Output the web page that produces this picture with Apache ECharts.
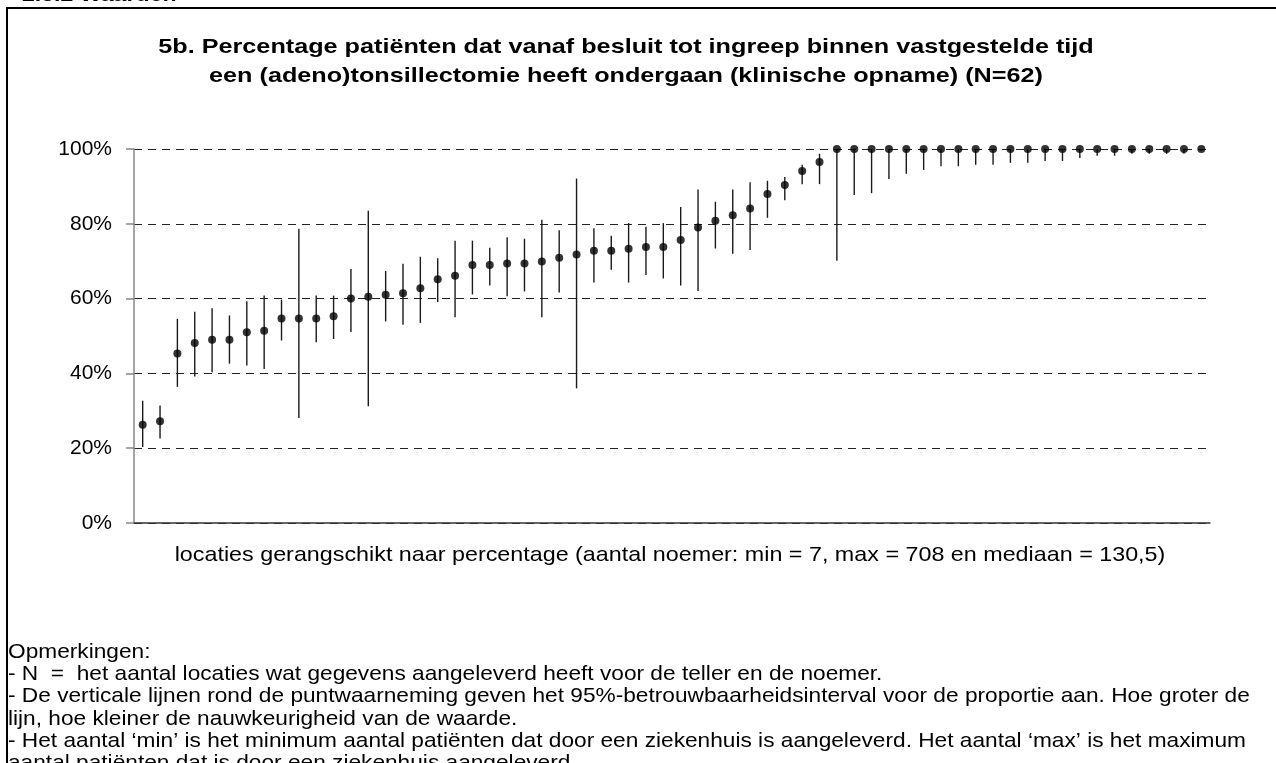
<!doctype html>
<html>
<head>
    <meta charset="utf-8">
    <title>5b. Percentage patiënten</title>
    <style type="text/css">
        body, html {
            width: 100%;
            height: 100%;
            margin: 0;
            padding: 0;
            background: #fff;
        }
    </style>
</head>
<body>
<div id="container" style="width: 1276px; height: 763px"></div>

<script type="text/javascript" src="https://cdn.jsdelivr.net/npm/echarts@6/dist/echarts.min.js"></script>
<script type="text/javascript">
    // 62 locaties, gerangschikt naar percentage
    const locaties = Array.from({length: 62}, (_, i) => String(i + 1));

    // puntwaarneming (%)
    const percentage = [
        26.3, 27.2, 45.3, 48.1, 49.0, 49.0, 51.0, 51.4, 54.7, 54.7,
        54.7, 55.3, 60.0, 60.5, 61.0, 61.4, 62.8, 65.2, 66.1, 69.0,
        69.0, 69.4, 69.4, 69.9, 70.9, 71.8, 72.8, 72.8, 73.3, 73.8,
        73.8, 75.7, 79.0, 80.8, 82.3, 84.1, 88.0, 90.4, 94.1, 96.5,
        100, 100, 100, 100, 100, 100, 100, 100, 100, 100,
        100, 100, 100, 100, 100, 100, 100, 100, 100, 100,
        100, 100
    ];

    // 95%-betrouwbaarheidsinterval, ondergrens
    const ondergrens = [
        20.3, 22.6, 36.4, 39.2, 40.3, 42.6, 42.1, 41.2, 48.8, 28.1,
        48.3, 49.2, 51.1, 31.2, 53.9, 53.0, 53.5, 59.1, 55.0, 61.1,
        63.5, 60.6, 61.9, 55.0, 61.6, 36.0, 64.3, 67.7, 64.3, 66.3,
        65.4, 63.5, 62.0, 73.4, 72.0, 73.0, 81.6, 86.3, 90.6, 90.6,
        70.1, 87.7, 88.2, 92.0, 93.4, 94.4, 95.4, 95.4, 95.8, 95.8,
        96.3, 96.3, 96.8, 96.8, 97.6, 98.2, 98.2, 98.7, 98.7, 98.7,
        98.7, 99.5
    ];

    // 95%-betrouwbaarheidsinterval, bovengrens
    const bovengrens = [
        32.7, 31.4, 54.6, 56.5, 57.4, 55.5, 59.3, 60.8, 59.7, 78.7,
        60.8, 60.8, 67.9, 83.5, 67.4, 69.3, 71.2, 70.8, 75.5, 75.5,
        73.6, 76.4, 76.0, 81.1, 78.3, 92.1, 78.8, 76.8, 80.2, 79.2,
        80.2, 84.5, 89.2, 85.9, 89.2, 91.1, 91.5, 92.5, 95.8, 98.7,
        100, 100, 100, 100, 100, 100, 100, 100, 100, 100,
        100, 100, 100, 100, 100, 100, 100, 100, 100, 100,
        100, 100
    ];

    const yTicks = [0, 20, 40, 60, 80, 100];

    const titel = [
        '5b. Percentage patiënten dat vanaf besluit tot ingreep binnen vastgestelde tijd',
        'een (adeno)tonsillectomie heeft ondergaan (klinische opname) (N=62)'
    ];
    const xTitel = 'locaties gerangschikt naar percentage (aantal noemer: min = 7, max = 708 en mediaan = 130,5)';
    const opmerkingen = [
        'Opmerkingen:',
        '- N  =  het aantal locaties wat gegevens aangeleverd heeft voor de teller en de noemer.',
        '- De verticale lijnen rond de puntwaarneming geven het 95%-betrouwbaarheidsinterval voor de proportie aan. Hoe groter de',
        'lijn, hoe kleiner de nauwkeurigheid van de waarde.',
        '- Het aantal \u2018min\u2019 is het minimum aantal patiënten dat door een ziekenhuis is aangeleverd. Het aantal \u2018max\u2019 is het maximum',
        'aantal patiënten dat is door een ziekenhuis aangeleverd.'
    ];

    const font = "'Liberation Sans', Arial, sans-serif";

    const dom = document.getElementById('container');
    const myChart = echarts.init(dom, null, {renderer: 'canvas'});

    const intervalData = locaties.map((c, i) => [i, ondergrens[i], bovengrens[i]]);

    const graphics = [
        // kader
        {
            type: 'polyline',
            shape: {points: [[7, 763], [7, 8], [1276, 8]]},
            style: {stroke: '#000', lineWidth: 2, fill: null}
        },
        // afgesneden kop
        {
            type: 'text',
            x: 22, y: -15, scaleX: 1.1,
            style: {
                text: '2.5.2 Waarden', x: 0, y: 0,
                font: 'bold 21px ' + font, fill: '#000',
                verticalAlign: 'top'
            }
        },
        // as-titel
        {
            type: 'text',
            x: 670, y: 555, scaleX: 1.11,
            style: {
                text: xTitel, x: 0, y: 0,
                font: '21px ' + font, fill: '#000',
                align: 'center', verticalAlign: 'middle'
            }
        }
    ];
    titel.forEach((t, i) => {
        graphics.push({
            type: 'text',
            x: 626, y: 47 + i * 29, scaleX: 1.2,
            style: {
                text: t, x: 0, y: 0,
                font: 'bold 21px ' + font, fill: '#000',
                align: 'center', verticalAlign: 'middle'
            }
        });
    });
    opmerkingen.forEach((t, i) => {
        graphics.push({
            type: 'text',
            x: 8, y: 652 + i * 22.3, scaleX: 1.08,
            style: {
                text: t, x: 0, y: 0,
                font: '21px ' + font, fill: '#000',
                align: 'left', verticalAlign: 'middle'
            }
        });
    });

    const option = {
        animation: false,
        backgroundColor: '#fff',
        grid: {left: 134, right: 66, top: 149, bottom: 240},
        xAxis: {
            type: 'category',
            data: locaties,
            boundaryGap: true,
            axisLine: {lineStyle: {color: '#333', width: 1.5}},
            axisTick: {show: false},
            axisLabel: {show: false},
            splitLine: {show: false}
        },
        yAxis: {
            type: 'value',
            min: yTicks[0],
            max: yTicks[yTicks.length - 1],
            interval: 20,
            axisLine: {show: true, lineStyle: {color: '#888', width: 1.5}},
            axisTick: {show: true, inside: false, length: 8, lineStyle: {color: '#888', width: 1.5}},
            axisLabel: {
                margin: 22,
                color: '#000',
                fontSize: 21,
                fontFamily: font,
                formatter: v => v + '%'
            },
            splitLine: {
                show: true,
                lineStyle: {color: '#222', width: 1.2, type: [8, 6]}
            }
        },
        graphic: graphics,
        series: [
            {
                name: '95%-betrouwbaarheidsinterval',
                type: 'custom',
                data: intervalData,
                encode: {x: 0, y: [1, 2]},
                renderItem: function (params, api) {
                    const lo = api.coord([api.value(0), api.value(1)]);
                    const hi = api.coord([api.value(0), api.value(2)]);
                    return {
                        type: 'line',
                        shape: {x1: lo[0], y1: lo[1], x2: hi[0], y2: hi[1]},
                        style: {stroke: '#1a1a1a', lineWidth: 1.4}
                    };
                },
                z: 3
            },
            {
                name: 'percentage',
                type: 'scatter',
                data: percentage,
                symbol: 'circle',
                symbolSize: 8,
                itemStyle: {color: '#000'},
                z: 4
            }
        ]
    };

    myChart.setOption(option);
    window.addEventListener('resize', myChart.resize);
</script>
</body>
</html>
